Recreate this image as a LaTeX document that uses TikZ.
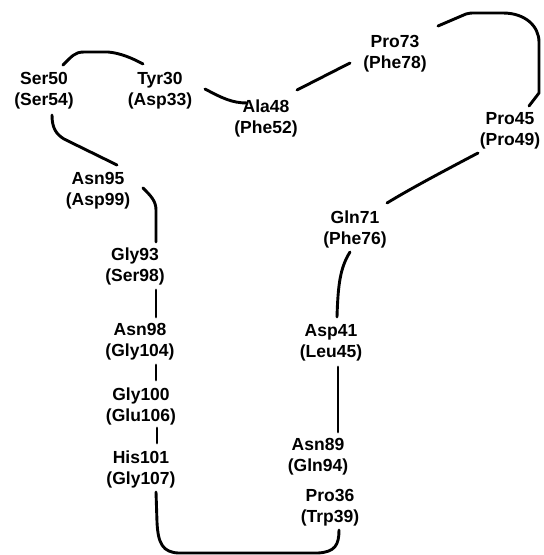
\documentclass[tikz,border=0pt]{standalone}
\usepackage{fontspec}
\setmainfont{Liberation Sans}
\begin{document}
\begin{tikzpicture}[x=1pt,y=-1pt,
  res/.style={align=center,inner sep=0pt,font=\fontsize{17.5}{21}\selectfont\bfseries},
  link/.style={line width=2.9pt,line cap=round,line join=round}]
\useasboundingbox (0,0) rectangle (544,555);

% residue pairs
\node[res] (ser)   at (44,91)   {Ser50\\(Ser54)};
\node[res] (tyr)   at (160,91)  {Tyr30\\(Asp33)};
\node[res] (ala)   at (266,118) {Ala48\\(Phe52)};
\node[res] (pro73) at (395,54)  {Pro73\\(Phe78)};
\node[res] (pro45) at (510,131) {Pro45\\(Pro49)};
\node[res] (asn95) at (98,191)  {Asn95\\(Asp99)};
\node[res] (gly93) at (135,266) {Gly93\\(Ser98)};
\node[res] (asn98) at (140,342) {Asn98\\(Gly104)};
\node[res] (gly100) at (141,406) {Gly100\\(Glu106)};
\node[res] (his)   at (141,469) {His101\\(Gly107)};
\node[res] (gln)   at (355,229) {Gln71\\(Phe76)};
\node[res] (asp)   at (331,343) {Asp41\\(Leu45)};
\node[res] (asn89) at (318,457) {Asn89\\(Gln94)};
\node[res] (pro36) at (330,508) {Pro36\\(Trp39)};

% backbone links
\draw[link] ([shift={(19,-26)}]ser.center) .. controls (72,56) and (75,52) .. (84,52)
  -- (108,52) .. controls (120,53) and (132,58) .. ([shift={(-17,-27)}]tyr.center);
\draw[link] ([shift={(45,-2)}]tyr.center) .. controls (222,98) and (232,103) .. ([shift={(-19,-15)}]ala.center);
\draw[link] ([shift={(31,-28)}]ala.center) -- ([shift={(-45,9)}]pro73.center);
\draw[link] ([shift={(43,-28)}]pro73.center) -- (466,14) .. controls (470,13) .. (476,13)
  -- (503,13) .. controls (525,13) and (539,26) .. (539,42) -- (539,93)
  -- ([shift={(19,-25)}]pro45.center);
\draw[link] ([shift={(-32,22)}]pro45.center) .. controls (440,173) and (410,189) .. ([shift={(32,-26)}]gln.center);
\draw[link] ([shift={(-5,23)}]gln.center) .. controls (340,268) and (338,285) .. ([shift={(6,-26)}]asp.center);
\draw[link] ([shift={(7,24)}]asp.center) -- ([shift={(20,-25)}]asn89.center);
\draw[link] ([shift={(9,22)}]pro36.center) .. controls (339,545) and (335,552) .. (318,553)
  -- (178,553) .. controls (163,552) and (158,544) .. (157,522) -- ([shift={(15,23)}]his.center);
\draw[link] ([shift={(16,-26)}]his.center) -- ([shift={(16,22)}]gly100.center);
\draw[link] ([shift={(15,-26)}]gly100.center) -- ([shift={(16,23)}]asn98.center);
\draw[link] ([shift={(16,-25)}]asn98.center) -- ([shift={(21,24)}]gly93.center);
\draw[link] ([shift={(21,-24)}]gly93.center) -- (156,210) .. controls (156,201) and (151,196) .. ([shift={(45,-3)}]asn95.center);
\draw[link] ([shift={(8,24)}]ser.center) .. controls (52,128) and (56,134) .. (64,139) -- ([shift={(19,-26)}]asn95.center);
\end{tikzpicture}
\end{document}
